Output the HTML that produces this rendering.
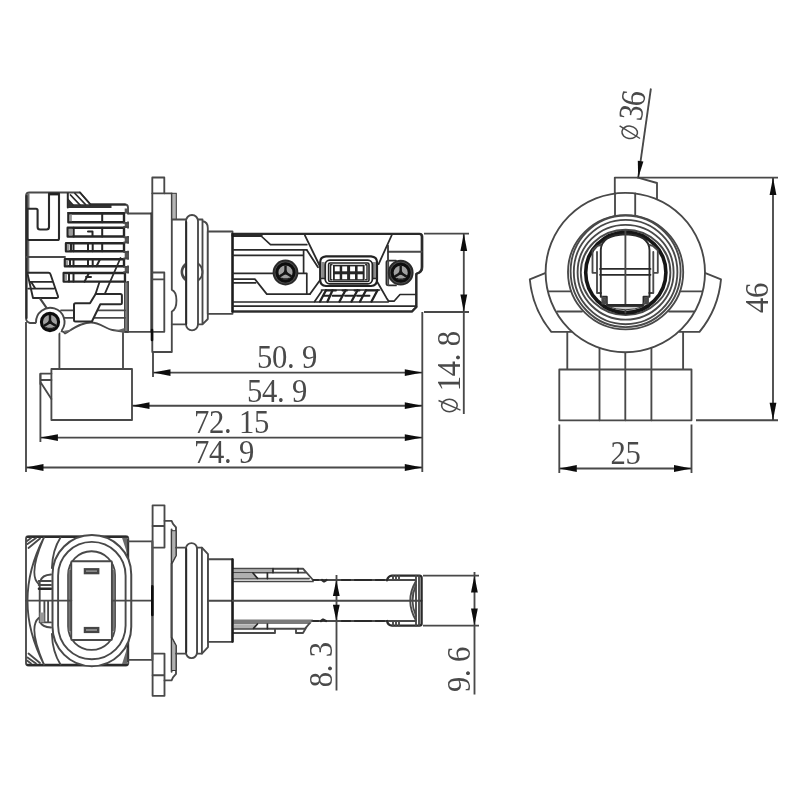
<!DOCTYPE html>
<html>
<head>
<meta charset="utf-8">
<title>Dimension drawing</title>
<style>
html,body{margin:0;padding:0;background:#fff;}
body{width:800px;height:800px;overflow:hidden;font-family:"Liberation Serif",serif;}
svg{display:block;position:absolute;left:0;top:0;}
.l{fill:none;stroke:#484848;stroke-width:1.85;stroke-linecap:round;stroke-linejoin:round;}
.t{fill:none;stroke:#2a2a2a;stroke-width:2;stroke-linecap:round;stroke-linejoin:round;}
.h{fill:none;stroke:#444;stroke-width:1;stroke-linecap:round;stroke-linejoin:round;}
.w{fill:#fff;stroke:#484848;stroke-width:1.85;stroke-linejoin:round;}
.g{fill:#9a9a9a;stroke:#383838;stroke-width:1;}
.d{fill:none;stroke:#484848;stroke-width:1.85;}
.a{fill:#111;stroke:none;}
.k{fill:#222;stroke:none;}
text{font-family:"Liberation Serif",serif;font-size:33px;fill:#4a4a4a;}
</style>
</head>
<body>
<svg width="800" height="800" viewBox="0 0 800 800">
<defs><filter id="bl" x="0" y="0" width="800" height="800" filterUnits="userSpaceOnUse"><feGaussianBlur stdDeviation="0.7"/></filter>
<g id="scrA">
<circle r="11.9" fill="#505050" stroke="#2a2a2a" stroke-width="2"/>
<circle r="8.6" fill="#a0a0a0" stroke="#101010" stroke-width="3.1"/>
<path d="M0,0.3V-7 M0,0.3L-6,3.9 M0,0.3L6,3.9" fill="none" stroke="#181818" stroke-width="2.4"/>
<path d="M0,-3.6L3.4,2.1H-3.4Z" fill="#181818"/>
<path d="M-4.2,5.6Q0,7.4 4.2,5.6" fill="none" stroke="#222" stroke-width="1.4"/>
</g>
<g id="scrB">
<circle r="8.6" fill="#a0a0a0" stroke="#101010" stroke-width="3.1"/>
<path d="M0,0.3V-7 M0,0.3L-6,3.9 M0,0.3L6,3.9" fill="none" stroke="#181818" stroke-width="2.4"/>
<path d="M0,-3.6L3.4,2.1H-3.4Z" fill="#181818"/>
<path d="M-4.2,5.6Q0,7.4 4.2,5.6" fill="none" stroke="#222" stroke-width="1.4"/>
</g>
</defs>
<rect x="0" y="0" width="800" height="800" fill="#fff"/>
<g filter="url(#bl)">
<g id="side">
<!-- wires + connector box -->
<path class="l" d="M59.4,333V369 M123,333V369"/>
<rect class="w" x="51.4" y="369" width="80.6" height="51"/>
<path class="l" d="M51.4,373.6H40.4V384 M40.4,380H51.4 M40.4,382L51.4,399"/>

<!-- heat sink outline -->
<path class="w" d="M26,318V196Q26,192.5 29.5,192.5H80L90.5,204.5H125Q128,204.5 128,207.5V332H125.6L112.5,330C106,329 100,322.5 91,322.5C80,322.5 72,329.5 65,333.5L63.5,331.8L36,323H30Q26,322 26,318Z"/>
<path d="M26.3,196Q26.3,193.2 29.5,193.2V208.8H26.3Z M26.3,240.5H29.3V273H26.3Z" fill="#707070"/>
<path class="t" d="M26.6,196V318" style="stroke-width:2"/>
<!-- J block -->
<path class="t" style="stroke-width:2.1" d="M49,193.6H59V238.5Q59,240 57.5,240H29Q27.6,240 27.6,238.5V208.7H36Q37.6,208.7 37.6,210.3V227Q37.6,229.5 40,229.5H46.5Q49,229.5 49,227Z"/>
<path d="M49,193h10v2.4h-10z" fill="#222"/>
<!-- top bar and hatch -->
<path class="t" d="M67.8,193.5V207.5"/>
<path d="M68,204.2H111.5V208H68Z" fill="#333"/>
<path class="t" d="M90.5,204.5H125"/>
<path class="t" style="stroke-width:1.8" d="M70.5,195L80,205 M75,193.5L85.5,204.5 M68,199.5L73,205 M80,192.5L90.5,204.5"/>
<path d="M68,200V205H72.5Z" fill="#333"/>
<!-- fins -->
<path class="t" style="stroke-width:1.6" d="M67.8,212.8H128"/>
<g fill="#fff" stroke="#262626" stroke-width="2.4" stroke-linejoin="round">
<rect x="68.4" y="213.6" width="55.6" height="8.6"/>
<rect x="67.7" y="227.8" width="56.3" height="8.7"/>
<rect x="66" y="243.2" width="58" height="8.1"/>
<rect x="64.9" y="259.2" width="59.1" height="7"/>
<path d="M63.7,273H125V281.6H63.7Z"/>
</g>
<path fill="#9a9a9a" d="M69.3,214.5h2.6v6.8h-2.6z M68.6,228.7h4v6.9h-4z M66.9,244.1h2.6v6.3h-2.6z M65.8,260.1h2.4v5.2h-2.4z M64.6,273.9h2.4v6.8h-2.4z"/>
<g class="t" style="stroke-width:2;stroke:#262626">
<path d="M102.2,213.6V222.2"/>
<path d="M73.7,227.8V236.5 M102.2,227.8V236.5 M88,231.5H92.5V236"/>
<path d="M71,243.2V251.3 M73.5,243.2V251.3 M88,243.2V251.3 M92.7,243.2V251.3 M102.2,243.2V251.3"/>
<path d="M70,259.2V266.2 M73.5,259.2V266.2 M88,259.2V266.2 M92.7,259.2V266.2 M100,259.2L96.5,266.2"/>
<path d="M69,273V281.6 M73.5,273V281.6 M86,277H91 M89,273L84.5,281.6"/>
</g>
<path fill="#555" d="M124.7,208.5h3.6v4.5h-3.6z M124.7,222.9h3.6v4.1h-3.6z M124.7,237.2h3.6v5.3h-3.6z M124.7,252h3.6v6.5h-3.6z M124.7,266.9h3.6v5.3h-3.6z"/>
<path class="l" d="M124,222.9H128 M124,227H128 M124,237.2H128 M124,242.5H128 M124,252H128 M124,258.5H128 M124,266.9H128 M124,272.2H128"/>
<path fill="#fff" d="M126.7,214.2h3v7.4h-3z M126.7,228.4h3v7.5h-3z M126.7,243.8h3v6.9h-3z M126.7,259.8h3v5.8h-3z M126.7,273.6h3v7.4h-3z"/>
<path class="l" d="M26,257H65"/>
<!-- diagonals -->
<path class="t" style="stroke-width:1.8" d="M120.5,258L105,293.4 M99.4,282.2L95.6,293.9"/>
<!-- right band -->
<rect class="g" x="124.6" y="282" width="3.4" height="49.5" style="fill:#7d7d7d"/>
<!-- lower horizontal lines -->
<path class="l" d="M61,310.3H125 M63,317.8H125"/>
<path d="M112.5,330.3L124.6,332V328Q118,330.5 112.5,330.3Z M65,333.3L72.5,329.5L64,330.8Z" fill="#666"/>
<!-- Z block -->
<path class="w" style="stroke-width:2;stroke:#2c2c2c" d="M75.5,303.3H90L95.6,293.9H120.4Q121.9,293.9 121.9,295.4V302.7Q121.9,304.2 120.4,304.2H100.3L91.9,321.5H75.5Q74,321.5 74,320V304.8Q74,303.3 75.5,303.3Z"/>
<!-- parallelograms -->
<path class="t" style="stroke-width:1.9" d="M27.3,272.8H48.5Q50,272.8 50.5,274.3L58,296.3Q58.4,298 56.8,298H33L27.3,272.8Z M30.5,281.9H51.5 M28.3,288.6H53.8 M31.3,282.3L35,287.9"/>
<path class="t" style="stroke-width:2.2;stroke:#444" d="M40.3,298.8L46.3,307.5"/>
<!-- screw -->
<circle cx="50.2" cy="322" r="14.2" fill="#fff" stroke="none"/>
<path class="l" style="stroke-width:1.9" d="M36,322.3A14.25,14.25 0 1 1 61.9,330.2"/>
<use href="#scrB" x="50" y="322"/>

<!-- neck -->
<path class="l" d="M128,213.5H152.3 M128,331.8H164.3"/>
<path class="t" d="M151.5,213.5V331.8" style="stroke-width:2.2"/>
<!-- flange -->
<path class="w" d="M152.3,177.5H164.3V193.3H171.8V289.8C178,292 178,309 171.8,311.5V352H152.3Z"/>
<path class="l" d="M152.3,193.3H164.3"/>
<rect class="g" x="171.8" y="193.3" width="4.5" height="26.2" style="fill:#b5b5b5"/>
<path class="l" d="M152.3,272.5H164.3V331.8H152.3 M152.3,279.3H164.3"/>
<path class="t" style="stroke-width:2.6;stroke:#111" d="M152,330V340"/>
<!-- collar -->
<path class="l" d="M171.8,219.5H186 M171.8,324.3H186"/>
<!-- small circle behind o-ring -->
<circle class="l" cx="192" cy="272" r="10.5"/>
<path class="l" d="M186,265.5A7.5,7.5 0 0 0 186,278.5"/>
<!-- o-ring + rings -->
<rect class="w" x="186" y="215" width="12" height="115.3" rx="6" ry="6"/>
<path class="l" d="M198,219.5H202.5V324.3H198 M202.5,221Q207.8,222 207.8,228V319L202.5,324.3"/>
<path class="t" d="M186.3,222V324" style="stroke-width:1.8"/>
<!-- sleeve -->
<path class="w" d="M207.8,231.5H232.5V313.8H207.8Z"/>
<!-- LED body -->
<path class="w" d="M232.5,233.8H419.5Q422.5,233.8 422.5,236.8V267Q422.5,272 417.5,273.3L416.3,274V307L412,311.5H232.5Z"/>
<path class="t" d="M232.5,233.8H419.5Q421.8,233.8 421.8,236.8V267Q421.8,272 417.5,273.3L416.3,274V307" style="stroke-width:2.3"/>
<path class="t" d="M233,235.4H261" style="stroke-width:3.2"/>
<path class="t" d="M232.5,311.5H412L416.3,307" style="stroke-width:2"/>
<path class="t" style="stroke-width:2.2;stroke:#1c1c1c" d="M232.6,234V311.5"/>
<!-- upper-left pattern -->
<path class="t" style="stroke-width:1.7" d="M261.1,236L270.5,244.7H306.8 M233,249.8H306.8 M233,255.4H303.6 M303.6,250.4V273.3 M306.8,273.3V294.1 M233,273.3H273.5 M298,273.3H306.8 M233.3,279.1H254.9L266.8,294.1H310 M233.3,282.9H255.5"/>
<!-- trapezoid -->
<path class="t" style="stroke-width:1.8" d="M304.9,235.4L320.3,267 M306.8,250L318,267.3 M391.8,235L378.6,264.1 M320.5,279.5L310,294 M377.3,282L386.5,297.9L388.7,301.2"/>
<!-- lower strips -->
<path class="t" style="stroke-width:1.7" d="M233,302H388 M233,306.2H416.3 M321.5,290H379.5 M314.3,302L321.8,291"/>
<!-- hatch -->
<g class="t" style="stroke-width:2.3;stroke:#222">
<path d="M320,301.5L326,290.2 M327.5,301.5L332.5,290.2 M339.5,301.5L345.5,290.2 M351.5,301.5L357.5,290.2 M360,301.5L366,290.2 M371.5,301.5L377.5,290.2"/>
<path style="stroke-width:1.9" d="M326,290.5H336 M342.5,290.5H347 M354.5,290.5H359.5 M366,290.5H377.5 M323.5,295.8H330 M332.5,295.8H342.5 M345,295.8H355 M357,295.8H369.5"/>
</g>
<!-- screw 1 -->
<use href="#scrA" x="285.5" y="272.5"/>
<!-- LED window -->
<path d="M326,256.3H371Q377,256.8 377,262V280Q377,285.5 371,286H326Q320.2,285.5 320.2,280V262Q320.2,256.8 326,256.3Z" fill="#fff" stroke="#222" stroke-width="2.2"/>
<path d="M321.2,262h3.4v17h-3.4z M372.6,262h3.4v17h-3.4z" fill="#8a8a8a"/>
<path class="t" style="stroke-width:1.5" d="M320.5,278.5H324.6 M372.6,278.5H376.6"/>
<rect x="325.2" y="260.2" width="47.2" height="23.6" rx="4.5" fill="#fff" stroke="#222" stroke-width="1.8"/>
<rect x="328.6" y="263" width="40.4" height="18.5" rx="1.5" fill="#fff" stroke="#222" stroke-width="1.6"/>
<path class="t" style="stroke-width:1.4" d="M332,264.8H330.6V279.8H332 M365.6,264.8H367V279.8H365.6"/>
<rect x="333" y="264.8" width="31.6" height="15.8" fill="#262626"/>
<g fill="#fff">
<rect x="334.8" y="266.4" width="4.9" height="4.9"/><rect x="342.2" y="266.4" width="4.9" height="4.9"/><rect x="350.1" y="266.4" width="4.9" height="4.9"/><rect x="357.6" y="266.4" width="5.1" height="4.9"/>
<rect x="334.8" y="274.3" width="4.9" height="4.9"/><rect x="342.2" y="274.3" width="4.9" height="4.9"/><rect x="350.1" y="274.3" width="4.9" height="4.9"/><rect x="357.6" y="274.3" width="5.1" height="4.9"/>
</g>
<!-- right box -->
<path class="l" d="M388.5,251.7H421.5"/>
<path class="t" style="stroke-width:1.7" d="M388,245.5V259.5 M388.7,301.2H394L400,294.5H416.3"/>
<path class="t" style="stroke-width:1.7" d="M396,260.6H388.3Q386.4,260.6 386.4,262.5V283.5Q386.4,285.4 388.3,285.4H396"/>
<path class="l" d="M388.2,261V285"/>
<!-- screw 2 -->
<use href="#scrA" x="400.7" y="272.7"/>

</g>
<g id="front">
<!-- connector + neck (behind) -->
<path class="l" d="M567.3,325V369.5 M683.1,325V369.5"/>
<rect class="w" x="559.3" y="369.5" width="132.2" height="50.8"/>
<path class="l" d="M599.5,340V420.3 M625.3,345V420.3 M651.4,340V420.3"/>
<!-- ears -->
<path class="w" d="M547,272.4L529.8,279.4A96.5,96.5 0 0 0 551.3,331.9H571.3L575,320Z"/>
<path class="w" d="M703.6,272.4L721,279.4A96.5,96.5 0 0 1 699.5,331.9H679.5L676,320Z"/>
<!-- top tab -->
<path class="w" d="M614.8,215V177.6H638L657,183V215Z"/>
<!-- outer circle -->
<circle class="w" cx="625.3" cy="272.5" r="79.7"/>
<path class="l" d="M615,193V215.5 M635.2,193.3V215.5"/>
<!-- ear inner lines -->
<path class="l" d="M548.8,291.3H571 M557.5,311.5H582 M701.9,291.3H680 M693.7,311.5H669"/>
<!-- rings -->
<ellipse class="l" cx="625.6" cy="272.3" rx="57.6" ry="57.1"/>
<ellipse class="l" cx="625.6" cy="271.3" rx="55" ry="55.8"/>
<ellipse class="l" cx="625.6" cy="272" rx="51.8" ry="52.2"/>
<ellipse class="l" cx="625.6" cy="272.2" rx="48" ry="47.4"/>
<ellipse class="l" cx="625.6" cy="272.4" rx="44.8" ry="42.6"/>
<circle cx="625.8" cy="272.5" r="40.1" fill="#fff" stroke="#181818" stroke-width="3.6"/>
<!-- inner LED body front -->
<path class="t" style="stroke-width:1.9" d="M600.8,293V250Q601,235 625.6,234.2Q649.3,235 649.5,250V293"/>
<path class="t" style="stroke-width:1.8" d="M600,268.9H650.5 M600,274.8H650.5"/>
<path class="l" d="M625.4,231.5V312.5"/>
<!-- flaps -->
<path class="l" d="M600.8,245L597.5,245.8L592.5,250.3V272.8H597V293H600.8 M597,252V272.8 M649.5,245L652.8,245.8L657.8,250.3V272.8H653.3V293H649.5 M653.3,252V272.8"/>
<!-- bottom steps -->
<path class="t" style="stroke-width:1.9" d="M600.8,293V296.8H606.8V305H643.5V296.8H649.5V293"/>
<path class="l" d="M602.3,296.8V303.5H606.8 M648,296.8V303.5H643.5 M603.8,298.5h2v3h-2z M645,298.5h2v3h-2z"/>
<path d="M607.5,306.5Q625.6,313 643.5,306.5Z" fill="#ccc" stroke="#383838" stroke-width="1"/>

</g>
<g id="top">
<!-- heat sink rect -->
<rect class="w" x="26" y="536.2" width="102.3" height="129.3" rx="2.5"/>
<path class="t" style="stroke-width:2.2" d="M27.5,537H127 M27.5,664.8H127"/>
<path class="t" style="stroke-width:2" d="M127.6,540V661"/>
<path d="M122,537.8H127.3V554Z M122,664H127.3V647.5Z" fill="#6a6a6a"/>
<!-- corner hatch -->
<path class="l" d="M27.5,544L36,538 M28.5,548L40,538.5 M31,538L27,541 M27.5,657.5L36,663.5 M28.5,653.5L40,663 M31,663.5L27,660.5"/>
<!-- left inner arcs -->
<path class="l" d="M44,537.5Q11,600.7 44,664.5 M43.5,538.5Q28,575 38.7,584 M43.5,663.5Q28,627 38.7,618"/>
<path class="l" d="M60.5,537.5Q52.5,550 51.9,568 M60.5,664.5Q52.5,652 51.9,634"/>
<!-- small rect assembly -->
<path class="l" d="M40.5,581Q42,575 51,574.5 M40.5,622.4Q42,627 51,627.5"/>
<path class="l" d="M38.7,581H51 M38.7,585H51 M39.7,581V622.4H51 M44.4,601V622.4 M48.1,601V622.4"/>
<path class="t" style="stroke-width:2.6" d="M39,588.7H51"/>
<rect x="39.7" y="612.5" width="4.7" height="9.9" fill="#999"/>
<!-- connector ovals -->
<rect class="w" style="stroke-width:2" x="52.5" y="535" width="78.75" height="131.2" rx="39.4" ry="39.4"/>
<rect class="l" style="stroke-width:1.9" x="58.1" y="541.9" width="67.5" height="117.4" rx="33.75" ry="33.75"/>
<rect class="l" style="stroke-width:1.8" x="68.1" y="551.25" width="46.9" height="98.7" rx="23.4" ry="23.4"/>
<path d="M68.6,570V631H71.3V570Z M111.9,570V631H114.5V570Z" fill="#777" stroke="none"/>
<rect class="w" style="stroke-width:1.9" x="71.25" y="561.25" width="40.65" height="78.7" rx="1"/>
<rect x="83.75" y="568.1" width="15.65" height="6.2" fill="#444"/>
<rect x="83.75" y="626.9" width="15.65" height="6.2" fill="#444"/>
<path d="M86,570.3h11v1.8h-11z M86,629.1h11v1.8h-11z" fill="#888"/>
<!-- center line -->
<path class="l" d="M26,600.6H71.3 M111.9,600.6H151.4"/>
<!-- neck -->
<path class="l" d="M128.3,541.3H152.6 M128.3,659.9H152.6"/>
<!-- flange -->
<path class="w" d="M152.6,505.3H164.5V520.8H171.6L173,523.9L176,527.3V555.5L171.6,563.7V637.5L176,645.7V673.9L173,677.3L171.6,680.4H164.5V695.8H152.6Z"/>
<path class="l" d="M152.6,526H164.5 M164.5,520.8V547.6H152.6 M152.6,675.2H164.5 M164.5,680.4V653.6H152.6 M171.6,529.4V671.8"/>
<path d="M171.6,530.7H176V555.5L171.6,563.7Z M171.6,670.5H176V645.7L171.6,637.5Z" fill="#b0b0b0" stroke="#383838" stroke-width="1"/>
<path class="t" style="stroke-width:2.2;stroke:#555" d="M152.3,541.7V659.7"/>
<path class="t" style="stroke-width:2.6;stroke:#111" d="M152.3,586.4V615"/>
<!-- collar -->
<path class="l" d="M176,547.6H186 M176,653.6H186"/>
<!-- o-ring and rings -->
<path class="w" d="M197,547.6H201.9L208,554.1V647.1L201.9,653.6H197Z"/>
<path class="l" d="M201.9,547.6V653.6"/>
<rect class="w" x="186" y="543.1" width="11" height="115" rx="5.5"/>
<path class="t" style="stroke-width:1.8" d="M186.3,549V652"/>
<!-- sleeve -->
<rect class="w" x="208" y="559.2" width="24.6" height="82.6"/>
<path class="l" d="M208,600.7H232.8"/>
<!-- blade: upper rail -->
<path class="l" d="M233,568.7H303L313,580 M233,572.6H305.5 M233,578.6H309"/>
<path class="t" style="stroke-width:1.7;stroke:#444" d="M233,581.5H313"/>
<path class="l" d="M313,580H389"/>
<path style="fill:#b0b0b0;stroke:none" d="M233,569.3h40v2.8h-40z M233,573.2h20l4,5h-24z"/>
<path class="t" style="stroke-width:1.7" d="M253,573L257.5,578.4 M267.4,573V578.6 M273,568.7V572.6 M298,568.7V572.6"/>
<!-- lower rail -->
<path style="fill:#7a7a7a;stroke:none" d="M233,619.6H313L310.5,623.9H233z"/>
<path class="l" d="M312,621H389"/>
<path class="l" d="M233,628.7H305L309.5,623.5 M233,633H275V628.7 M296,628.7V633H303L306.5,627"/>
<path style="fill:#b0b0b0;stroke:none" d="M233,624.3h24l-3.5,4h-20.5z"/>
<path class="t" style="stroke-width:1.7" d="M253.5,628.3L257.5,624 M267.4,624V628.7"/>
<!-- notches on thin section -->
<path class="t" style="stroke-width:2.2" d="M313.5,580H318 M322,580L324,581.5L326.5,580 M342,580H350 M355,580H371 M376,580H384 M313.5,621H318 M321,621L323,619.5L326,621 M342,621H350 M355,621H371 M376,621H384" />
<path class="t" style="stroke-width:2.4;stroke:#1c1c1c" d="M232.5,559.5V641.5"/>
<!-- center line -->
<path class="l" d="M232.8,600.7H421.6"/>
<!-- tip -->
<path class="t" style="stroke-width:2.3" d="M387,580.3Q388,576 392,575.6H419.5Q421.6,575.6 421.6,578V623.5Q421.6,625.6 419.5,625.6H392Q388,625.4 387,621"/>
<path class="l" d="M389,580H416 M389,621H416 M416,575.6V625.6 M419,576V625.3 M396,575.6V580 M393,575.6V580 M399,575.6V580 M396,621V625.6 M393,621V625.6 M399,621V625.6"/>
<path class="l" d="M416,581Q404.5,600.7 416,620.5 M416,585Q409,600.7 416,616"/>

</g>
<g id="dims">
<!-- horizontal dims of side view -->
<path class="d" d="M153,372.6H422.3 M132,405.7H422.3 M40.4,437.6H422.3 M26,467.5H422.3"/>
<path class="d" d="M422.3,312V472 M153,352V377 M40.4,373.6V442 M26,322V472"/>
<path class="a" d="M153,372.6l17.5,-3.4v6.8z M132,405.7l17.5,-3.4v6.8z M40.4,437.6l17.5,-3.4v6.8z M26,467.5l17.5,-3.4v6.8z"/>
<path class="a" d="M422.3,372.6l-17.5,-3.4v6.8z M422.3,405.7l-17.5,-3.4v6.8z M422.3,437.6l-17.5,-3.4v6.8z M422.3,467.5l-17.5,-3.4v6.8z"/>
<g transform="translate(257,367.6)"><text transform="scale(0.93,1.05)" x="0.00 16.13 32.26 48.39" y="0">50.9</text></g>
<g transform="translate(247,401.6)"><text transform="scale(0.93,1.05)" x="0.00 16.13 32.26 48.39" y="0">54.9</text></g>
<g transform="translate(194,433)"><text transform="scale(0.93,1.05)" x="0.00 16.13 32.26 48.39 64.52" y="0">72.15</text></g>
<g transform="translate(194,462.6)"><text transform="scale(0.93,1.05)" x="0.00 16.13 32.26 48.39" y="0">74.9</text></g>
<!-- dia 14.8 -->
<path class="d" d="M424,233.6H469 M424,312H469 M463.8,233.6V414"/>
<path class="a" d="M463.8,233.6l-3.4,17.5h6.8z M463.8,312l-3.4,-17.5h6.8z"/>
<g transform="translate(459.5,413.3) rotate(-90)"><text transform="scale(0.93,1.05)" x="23.66 39.78 55.91 72.04" y="0">14.8</text><ellipse cx="7.80" cy="-10.1" rx="6.2" ry="7.8" fill="none" stroke="#4a4a4a" stroke-width="1.5"/><path d="M3.20,1L12.80,-21" fill="none" stroke="#4a4a4a" stroke-width="1.4"/></g>
<!-- front view dims -->
<path class="d" d="M637,177.6H778 M696,420.2H778 M773,177.6V420.2"/>
<path class="a" d="M773,177.6l-3.4,17.5h6.8z M773,420.2l-3.4,-17.5h6.8z"/>
<g transform="translate(767.8,313) rotate(-90)"><text transform="scale(0.93,1.05)" x="0.00 16.13" y="0">46</text></g>
<path class="d" d="M559.3,424.5V473 M691.5,424.5V473 M559.3,468.5H691.5"/>
<path class="a" d="M559.3,468.5l17.5,-3.4v6.8z M691.5,468.5l-17.5,-3.4v6.8z"/>
<g transform="translate(610.5,464)"><text transform="scale(0.93,1.05)" x="0.00 16.13" y="0">25</text></g>
<!-- dia 36 leader -->
<path class="d" d="M650.9,88.5L638.2,177.9"/>
<path class="a" d="M638.2,177.9l-0.4,-17.2l5.6,0.8z"/>
<g transform="translate(638.6,141.5) rotate(-81.9)"><text transform="scale(0.93,1.05)" x="21.51 36.88" y="0">36</text><ellipse cx="7.80" cy="-10.1" rx="6.2" ry="7.8" fill="none" stroke="#4a4a4a" stroke-width="1.5"/><path d="M3.20,1L12.80,-21" fill="none" stroke="#4a4a4a" stroke-width="1.4"/></g>
<!-- top view dims -->
<path class="d" d="M336.5,575V690.4 M423,575.6H479 M423,625.6H479 M474.5,572V694.5"/>
<path class="a" d="M336.3,580l-3.4,16h6.8z M336.3,620.7l-3.4,-16h6.8z M474.4,575.6l-3.4,17h6.8z M474.4,625.6l-3.4,-17h6.8z"/>
<g transform="translate(331.8,687.3) rotate(-90)"><text transform="scale(0.93,1.05)" x="0.00 16.13 32.26" y="0">8.3</text></g>
<g transform="translate(470.3,692) rotate(-90)"><text transform="scale(0.93,1.05)" x="0.00 16.13 32.26" y="0">9.6</text></g>

</g>
</g>
</svg>
</body>
</html>
